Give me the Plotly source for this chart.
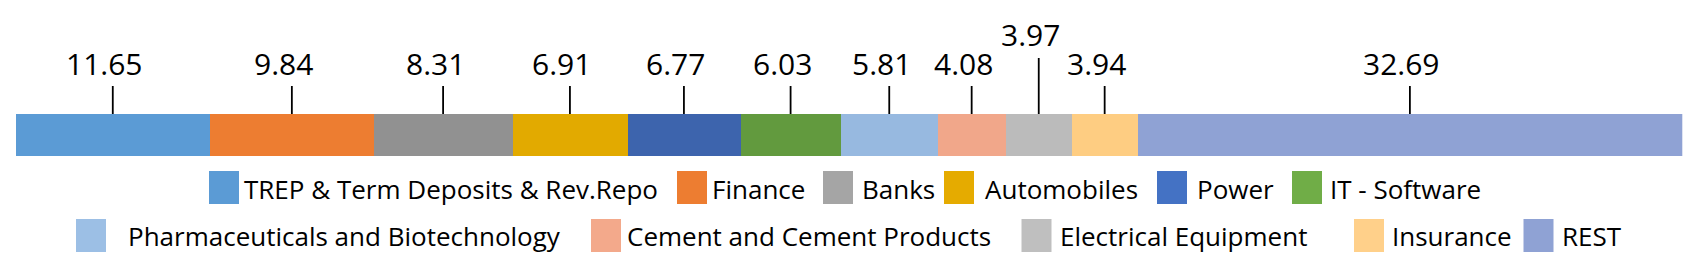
import plotly.graph_objects as go

# ---------------- data ----------------
categories = [
    "TREP & Term Deposits & Rev.Repo", "Finance", "Banks", "Automobiles", "Power",
    "IT - Software", "Pharmaceuticals and Biotechnology", "Cement and Cement Products",
    "Electrical Equipment", "Insurance", "REST",
]
values = [11.65, 9.84, 8.31, 6.91, 6.77, 6.03, 5.81, 4.08, 3.97, 3.94, 32.69]
value_labels = ["11.65", "9.84", "8.31", "6.91", "6.77", "6.03", "5.81", "4.08", "3.97", "3.94", "32.69"]

# ---------------- styles / layout ----------------
bar_colors = ["#5B9BD5", "#ED7D31", "#919191", "#E2AA00", "#3D64AD", "#629A3E",
              "#97B9E0", "#F1A78A", "#BBBBBB", "#FECD82", "#8FA2D4"]
legend_colors = ["#5B9BD5", "#ED7D31", "#A5A5A5", "#E5AB00", "#4472C4", "#70AD47",
                 "#9CBFE5", "#F3A98B", "#BFBFBF", "#FFD08A", "#8FA2D4"]
raised = [False] * 8 + [True] + [False] * 2

W, H = 1696, 265
FONT = "Open Sans"
bar_left, bar_right = 15.7, 1682.3
bar_top, bar_bot = 114, 156
bar_h = bar_bot - bar_top
bar_mid = (bar_top + bar_bot) / 2

# legend layout (pixels): row, swatch left, text left
legend_row = [0, 0, 0, 0, 0, 0, 1, 1, 1, 1, 1]
legend_sw_x = [209, 677, 823, 944, 1157, 1292, 76, 591, 1021.5, 1354, 1523.5]
legend_tx_x = [243, 711, 861, 984, 1196, 1329, 127, 626, 1058.5, 1391, 1561]
row_sw_top = [171, 219]
row_text_mid = [189, 236]
sw_w, sw_h = 30, 33


def py(p):
    return 1 - p / H


fig = go.Figure()
for name, v, c in zip(categories, values, bar_colors):
    fig.add_trace(go.Bar(
        y=[0], x=[v], name=name, orientation="h", width=1,
        marker=dict(color=c, line=dict(width=0)), showlegend=False,
        hoverinfo="name+x",
    ))

shapes = []
annotations = []
cum = 0.0
for v, lab, up in zip(values, value_labels, raised):
    center = cum + v / 2
    cum += v
    line_top = 58 if up else 86
    text_mid = 35 if up else 64
    shapes.append(dict(type="line", xref="x", yref="paper", x0=center, x1=center,
                       y0=py(bar_top), y1=py(line_top),
                       line=dict(color="#000000", width=1.8)))
    annotations.append(dict(x=center, y=py(text_mid), xref="x", yref="paper",
                            text=lab, showarrow=False, xanchor="center", yanchor="middle",
                            xshift=-8,
                            font=dict(family=FONT, size=30, color="#000000")))

for name, col, r, sx, tx in zip(categories, legend_colors, legend_row, legend_sw_x, legend_tx_x):
    top = row_sw_top[r]
    shapes.append(dict(type="rect", xref="paper", yref="paper",
                       x0=sx / W, x1=(sx + sw_w) / W, y0=py(top + sw_h), y1=py(top),
                       fillcolor=col, line=dict(width=0)))
    annotations.append(dict(x=tx / W, y=py(row_text_mid[r]), xref="paper", yref="paper",
                            text=name, showarrow=False, xanchor="left", yanchor="middle",
                            borderpad=0,
                            font=dict(family=FONT, size=26, color="#000000")))

fig.update_layout(
    width=W, height=H, barmode="stack",
    margin=dict(l=0, r=0, t=0, b=0),
    paper_bgcolor="white", plot_bgcolor="white",
    xaxis=dict(domain=[bar_left / W, bar_right / W], range=[0, 100], visible=False, fixedrange=True),
    yaxis=dict(domain=[0, 1], range=[-(H - bar_mid) / bar_h, bar_mid / bar_h], visible=False, fixedrange=True),
    shapes=shapes, annotations=annotations, bargap=0,
)

fig.write_html("out.html")
